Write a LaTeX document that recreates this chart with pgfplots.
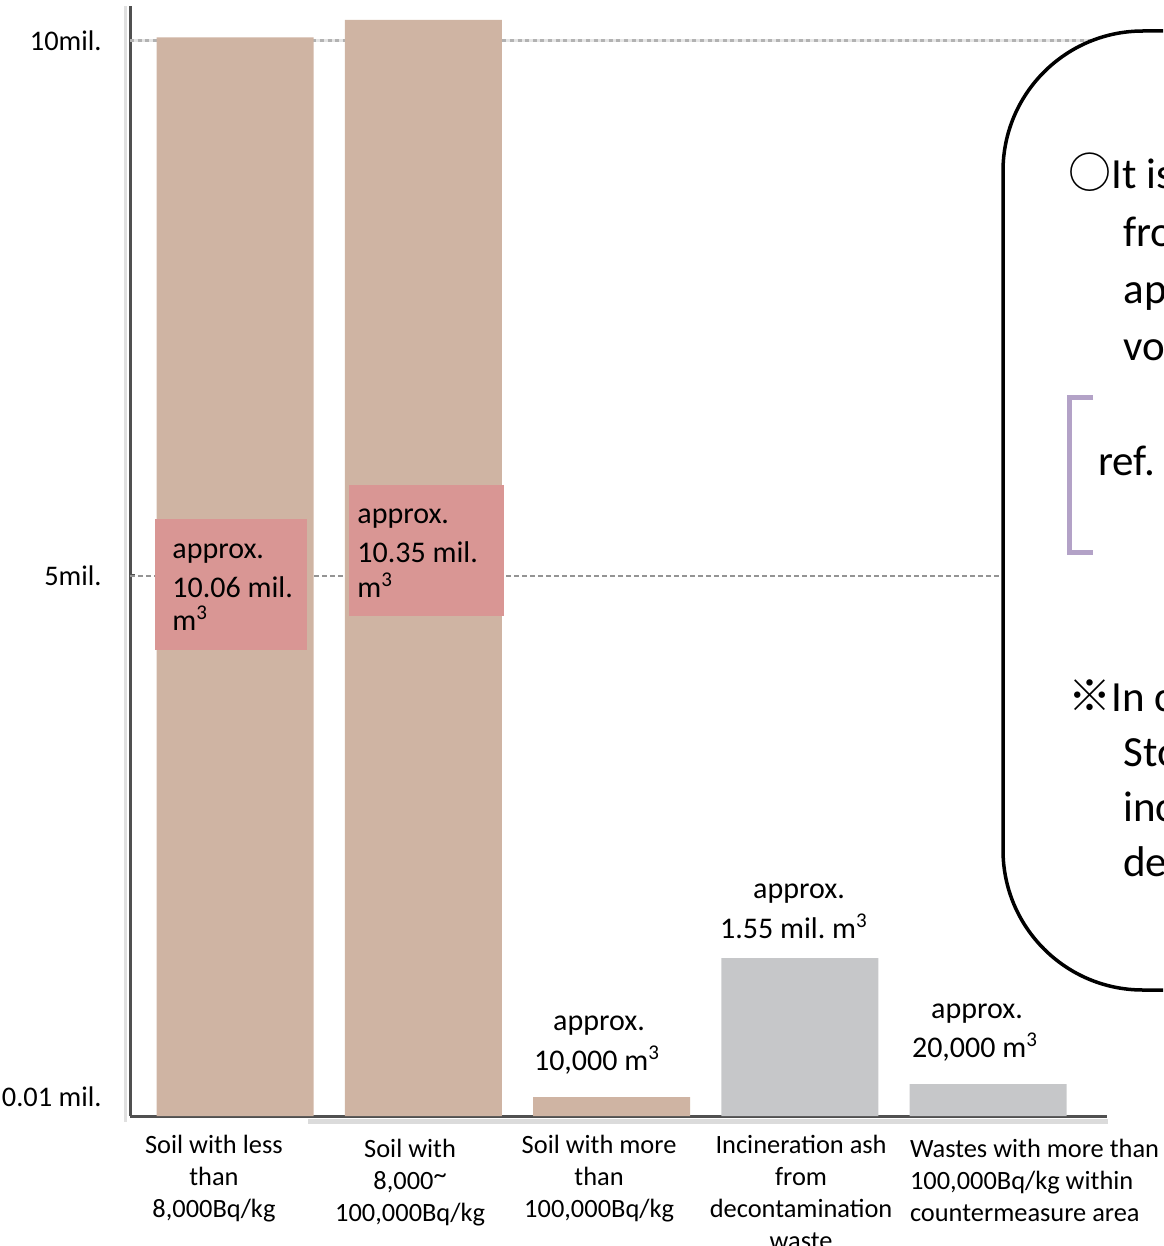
\documentclass[border=0pt]{standalone}
\usepackage{fontspec}
\setmainfont{Carlito}
\newfontfamily\cjk{Noto Sans CJK JP}
\usepackage{pgfplots}
\pgfplotsset{compat=1.18}
\frenchspacing

\definecolor{soiltan}{HTML}{CFB4A3}
\definecolor{ashgray}{HTML}{C6C7C9}
\definecolor{notepink}{HTML}{D99694}
\definecolor{bracketpurple}{HTML}{B3A2C7}
\definecolor{axisdark}{HTML}{505050}

\newcommand\valfont{\fontsize{15pt}{18pt}\selectfont}
\newcommand\notefont{\fontsize{21.5pt}{28pt}\selectfont}
\newcommand\cube{\textsuperscript{3}}
\newcommand\range{\raisebox{0.22em}{\textasciitilde}}

\begin{document}
\begin{tikzpicture}[x=0.5pt,y=-0.5pt]
\path[use as bounding box, clip] (0,0) rectangle (1163,1246);

% faint shadow lines along the axes
\draw[black!12, line width=1.5pt] (125.5,6) -- (125.5,1122);
\draw[black!14, line width=2.5pt] (308,1121) -- (1108,1121);

\begin{axis}[
  at={(65pt,-558pt)}, anchor=south west,
  scale only axis, width=488.5pt, height=555pt,
  xmin=-0.5578, xmax=4.632,
  ymin=0, ymax=10.583,
  % broken value scale: piecewise linear, the small amounts get a stretched band near the base
  y coord trafo/.code={\pgfmathparse{
      1900*min(#1,0.01)
     +1300*max(min(#1,0.02)-0.01,0)
     +82.353*max(min(#1,1.55)-0.02,0)
     +110.725*max(min(#1,5)-1.55,0)
     +107*max(min(#1,10)-5,0)
     +60*max(#1-10,0)}},
  axis x line*=bottom, axis y line*=left,
  axis line style={-, line width=1.5pt, axisdark},
  xtick={-0.112,0.930,1.934,3.007,4.247},
  xticklabels={
    {Soil with less\\than\\8,000Bq/kg},
    {\begin{tabular}{@{}c@{}}Soil with\\8,000\range\\100,000Bq/kg\end{tabular}},
    {Soil with more\\than\\100,000Bq/kg},
    {Incineration ash\\from\\decontamination\\waste},
    {\begin{tabular}{@{}l@{}}Wastes with more than\\100,000Bq/kg within\\countermeasure area\end{tabular}}},
  xtick style={draw=none},
  xticklabel style={anchor=north, align=center, inner sep=0pt, yshift=-9.4pt,
    font=\fontsize{13.2pt}{16pt}\selectfont},
  ytick={5,10}, yticklabels={5mil., 10mil.},
  extra y ticks={0.01}, extra y tick labels={0.01 mil.},
  extra y tick style={major tick length=0pt},
  ytick style={axisdark, line width=1.5pt},
  major tick length=2.5pt, tick align=inside,
  yticklabel style={anchor=east, inner sep=0pt, xshift=-14pt,
    font=\fontsize{14.2pt}{17pt}\selectfont},
]
% reference lines at 5 and 10 million
\draw[black!10, line width=1.5pt] (axis cs:-0.5578,10) -- (axis cs:4.632,10);
\draw[black!30, line width=1.5pt, dash pattern=on 2pt off 1.8pt] (axis cs:-0.5578,10) -- (axis cs:4.632,10);
\draw[black!42, line width=1pt, dash pattern=on 2.5pt off 1.5pt] (axis cs:-0.5578,5) -- (axis cs:4.632,5);

% soil volumes (million m3)
\addplot[ybar, bar width=0.834, bar shift=0pt, fill=soiltan, draw=none]
  coordinates {(0,10.06) (1,10.35) (2,0.01)};
% waste volumes (million m3)
\addplot[ybar, bar width=0.834, bar shift=0pt, fill=ashgray, draw=none]
  coordinates {(3,1.55) (4,0.02)};
\end{axis}

% value labels inside the two tall bars
\fill[notepink] (155,519) rectangle (307,650);
\fill[notepink] (349,485) rectangle (504,616);
\begin{scope}[every node/.style={inner sep=0pt, font=\valfont}]
\node[anchor=base west] at (172,558) {approx.};
\node[anchor=base west] at (172,597) {10.06 mil.};
\node[anchor=base west] at (172,630) {m\cube};
\node[anchor=base west] at (357,523) {approx.};
\node[anchor=base west] at (357,562) {10.35 mil.};
\node[anchor=base west] at (357,597) {m\cube};
% value labels above the short bars
\node[anchor=base] at (599,1030) {approx.};
\node[anchor=base] at (597,1070) {10,000 m\cube};
\node[anchor=base] at (799,898) {approx.};
\node[anchor=base] at (794,938) {1.55 mil. m\cube};
\node[anchor=base] at (977,1018) {approx.};
\node[anchor=base] at (975,1057) {20,000 m\cube};
\end{scope}

% explanatory callout
\draw[black, line width=1.75pt, fill=white, rounded corners=70pt] (1003,31) rectangle (1520,990);
\draw[bracketpurple, line width=2.5pt] (1093,397) -- (1069,397) -- (1069,552) -- (1093,552);
\begin{scope}[every node/.style={inner sep=0pt, anchor=base west, font=\notefont}]
\node at (1068,189) {{\cjk ○}It is estimated that};
\node at (1123,246) {from the};
\node at (1123,303) {approximately};
\node at (1123,360) {volume of};
\node at (1098,475) {ref.};
\node at (1068,711) {{\cjk ※}In case of};
\node at (1123,766) {Storage Facility};
\node at (1123,821) {including};
\node at (1123,876) {decontamination};
\end{scope}
\end{tikzpicture}
\end{document}
